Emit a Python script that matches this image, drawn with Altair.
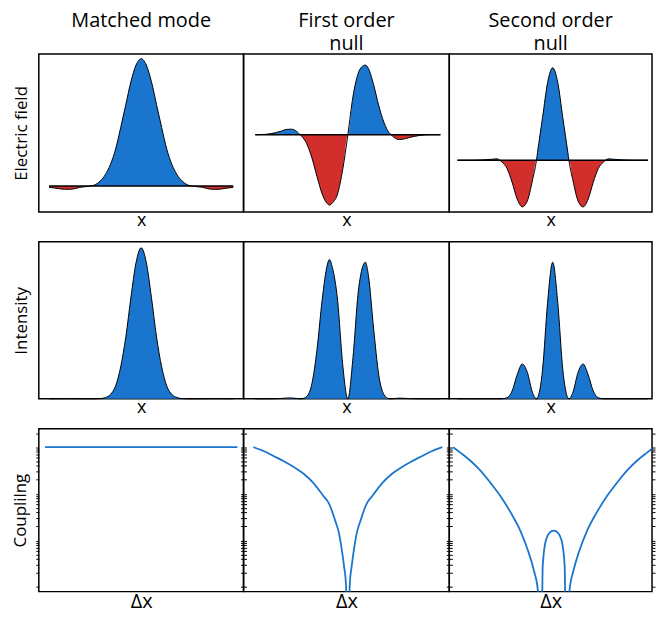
import altair as alt
import pandas as pd

# electric field profiles, x in panel units (0..1), amplitude in arbitrary units
t_matched = [0.05, 0.075, 0.1, 0.125, 0.15, 0.175, 0.2, 0.225, 0.25, 0.275, 0.3, 0.325,
             0.35, 0.375, 0.4, 0.425, 0.45, 0.475, 0.5, 0.525, 0.55, 0.575, 0.6, 0.625,
             0.65, 0.675, 0.7, 0.725, 0.75, 0.775, 0.8, 0.825, 0.85, 0.875, 0.9, 0.925, 0.95]
e_matched = [-0.01, -0.015, -0.02, -0.025, -0.025, -0.02, -0.01, -0.005, 0.0, 0.01, 0.04,
             0.09, 0.17, 0.29, 0.46, 0.64, 0.82, 0.95, 1.0, 0.95, 0.82, 0.64, 0.46, 0.29,
             0.17, 0.09, 0.04, 0.01, 0.0, -0.005, -0.01, -0.02, -0.025, -0.025, -0.02,
             -0.015, -0.01]

t_first = [0.057, 0.107, 0.157, 0.182, 0.207, 0.232, 0.257, 0.275, 0.282, 0.307, 0.332,
           0.357, 0.382, 0.407, 0.417, 0.432, 0.457, 0.482, 0.507, 0.532, 0.557, 0.582,
           0.592, 0.607, 0.632, 0.657, 0.682, 0.707, 0.717, 0.732, 0.757, 0.782, 0.807,
           0.857, 0.907, 0.957]
e_first = [0.0, 0.005, 0.03, 0.05, 0.075, 0.08, 0.05, 0.0, -0.02, -0.13, -0.33, -0.6,
           -0.85, -0.99, -1.01, -0.98, -0.85, -0.5, 0.0, 0.55, 0.88, 0.99, 1.0, 0.95, 0.72,
           0.42, 0.18, 0.03, 0.0, -0.04, -0.07, -0.06, -0.04, -0.01, 0.0, 0.0]

t_second = [0.04, 0.11, 0.16, 0.21, 0.235, 0.25, 0.26, 0.285, 0.31, 0.335, 0.36, 0.385,
            0.41, 0.43, 0.435, 0.46, 0.485, 0.51, 0.535, 0.56, 0.585, 0.59, 0.61, 0.635,
            0.66, 0.685, 0.71, 0.735, 0.76, 0.77, 0.785, 0.81, 0.86, 0.91, 0.98]
e_second = [0.0, 0.0, 0.003, 0.01, 0.015, 0.0, -0.02, -0.09, -0.24, -0.42, -0.505, -0.44,
            -0.22, 0.0, 0.08, 0.46, 0.84, 1.0, 0.84, 0.46, 0.08, 0.0, -0.22, -0.44, -0.505,
            -0.42, -0.24, -0.09, -0.02, 0.0, 0.015, 0.01, 0.003, 0.0, 0.0]

# coupling vs offset (log scale); 1e-6 stands for the nulls
dx_matched = [0.03, 0.97]
c_matched = [1.0, 1.0]

dx_first = [0.048, 0.10, 0.148, 0.196, 0.244, 0.292, 0.34, 0.388, 0.416, 0.445, 0.464,
            0.478, 0.488, 0.498, 0.507, 0.516, 0.526, 0.536, 0.55, 0.569, 0.598, 0.626,
            0.674, 0.722, 0.77, 0.818, 0.866, 0.914, 0.966]
c_first = [1.0, 0.82, 0.64, 0.5, 0.375, 0.27, 0.17, 0.09, 0.061, 0.027, 0.0142, 0.0061,
           0.0029, 0.0011, 1e-6, 0.0011, 0.0029, 0.0061, 0.0142, 0.027, 0.061, 0.09, 0.17,
           0.27, 0.375, 0.5, 0.64, 0.82, 1.0]

dx_second = [0.019, 0.058, 0.107, 0.155, 0.204, 0.252, 0.301, 0.35, 0.388, 0.417, 0.437,
             0.451, 0.461, 0.476, 0.495, 0.515, 0.535, 0.554, 0.569, 0.579, 0.593, 0.613,
             0.642, 0.68, 0.729, 0.778, 0.826, 0.875, 0.923, 0.972, 1.011]
c_second = [1.0, 0.745, 0.5, 0.31, 0.17, 0.09, 0.041, 0.0163, 0.0061, 0.0023, 0.00085,
            1e-6, 0.0029, 0.01, 0.0147, 0.0163, 0.0147, 0.01, 0.0029, 1e-6, 0.00085, 0.0023,
            0.0061, 0.0163, 0.041, 0.09, 0.17, 0.31, 0.5, 0.745, 1.0]

headers = [["Matched mode", ""], ["First order", "null"], ["Second order", "null"]]
widths = [206, 207, 204]
field_domains = [[-0.203, 1.037], [-1.11, 1.16], [-0.56, 1.15]]
int_domains = [[0, 1.04], [0, 1.15], [0, 1.15]]

BLUE = "#1a75cf"
RED = "#d22f2c"
FONT = "Open Sans"

log_ticks = [k * 10 ** p for p in range(-3, 1) for k in range(1, 10)] + [2]


def x_enc(title, size):
    return alt.X("t:Q", scale=alt.Scale(domain=[0, 1], nice=False, zero=False),
                 axis=alt.Axis(title=title, labels=False, ticks=False, domain=False,
                               grid=False, titleFontSize=size, titleFontWeight="normal",
                               titlePadding=0))


def y_axis(title, col):
    if col != 0:
        return None
    return alt.Axis(title=title, labels=False, ticks=False, domain=False, grid=False,
                    titleFontSize=17, titleFontWeight="normal", titlePadding=8)


def field_panel(col, t, e):
    df = pd.DataFrame({"t": t, "e": e})
    base = alt.Chart(df).transform_calculate(
        pos="max(datum.e, 0)", neg="min(datum.e, 0)", zero="0")
    sc = alt.Scale(domain=field_domains[col], nice=False, zero=False)
    x = x_enc("x", 18)
    blue = base.mark_area(color=BLUE, interpolate="monotone").encode(
        x=x, y=alt.Y("pos:Q", scale=sc, axis=y_axis("Electric field", col)), y2="zero:Q")
    red = base.mark_area(color=RED, interpolate="monotone").encode(
        x=x, y=alt.Y("neg:Q", scale=sc), y2="zero:Q")
    outline = base.mark_line(color="black", strokeWidth=1, interpolate="monotone").encode(
        x=x, y=alt.Y("e:Q", scale=sc))
    axis0 = base.mark_line(color="black", strokeWidth=1.5).encode(
        x=x, y=alt.Y("zero:Q", scale=sc))
    return alt.layer(blue, red, outline, axis0).properties(
        width=widths[col], height=159,
        title=alt.TitleParams(headers[col], fontSize=20, fontWeight="normal",
                              lineHeight=23, offset=0, font=FONT, baseline="top"))


def intensity_panel(col, t, e):
    df = pd.DataFrame({"t": t, "e": e})
    base = alt.Chart(df).transform_calculate(i="datum.e * datum.e", zero="0")
    sc = alt.Scale(domain=int_domains[col], nice=False, zero=False)
    x = x_enc("x", 18)
    fill = base.mark_area(color=BLUE, interpolate="monotone").encode(
        x=x, y=alt.Y("i:Q", scale=sc, axis=y_axis("Intensity", col)), y2="zero:Q")
    outline = base.mark_line(color="black", strokeWidth=1, interpolate="monotone").encode(
        x=x, y=alt.Y("i:Q", scale=sc))
    return alt.layer(fill, outline).properties(width=widths[col], height=158)


def coupling_panel(col, dx, c):
    df = pd.DataFrame({"t": dx, "c": c})
    sc = alt.Scale(type="log", domain=[8e-4, 2.5], nice=False)
    x = x_enc("Δx", 20)
    left = alt.Chart(df).mark_line(color=BLUE, strokeWidth=1.8, clip=True,
                                   interpolate="monotone").encode(
        x=x, y=alt.Y("c:Q", scale=sc, axis=alt.Axis(
            title="Couplilng" if col == 0 else None, labels=False, values=log_ticks,
            tickSize=3, tickColor="black", domain=False, grid=False, titleFontSize=17,
            titleFontWeight="normal", titlePadding=6)))
    right = alt.Chart(df).mark_line(opacity=0).encode(
        x=x, y=alt.Y("c:Q", scale=sc, axis=alt.Axis(
            orient="right", title=None, labels=False, values=log_ticks, tickSize=3,
            tickColor="black", domain=False, grid=False)))
    return alt.layer(left, right).resolve_axis(y="independent").properties(
        width=widths[col], height=164)


fields = [(t_matched, e_matched), (t_first, e_first), (t_second, e_second)]
couplings = [(dx_matched, c_matched), (dx_first, c_first), (dx_second, c_second)]

row1 = alt.hconcat(*[field_panel(i, *fields[i]) for i in range(3)], spacing=0, bounds="flush")
row2 = alt.hconcat(*[intensity_panel(i, *fields[i]) for i in range(3)], spacing=0, bounds="flush")
row3 = alt.hconcat(*[coupling_panel(i, *couplings[i]) for i in range(3)], spacing=0, bounds="flush")

chart = alt.vconcat(row1, row2, row3, spacing=10).configure_view(
    stroke="black", strokeWidth=1.5
).configure_axis(
    titleFont=FONT, labelFont=FONT
).configure_title(font=FONT).properties(padding={"left": 2, "top": 0, "right": 0, "bottom": 0})

chart.save("out.html", embed_options={"renderer": "svg", "actions": False})
